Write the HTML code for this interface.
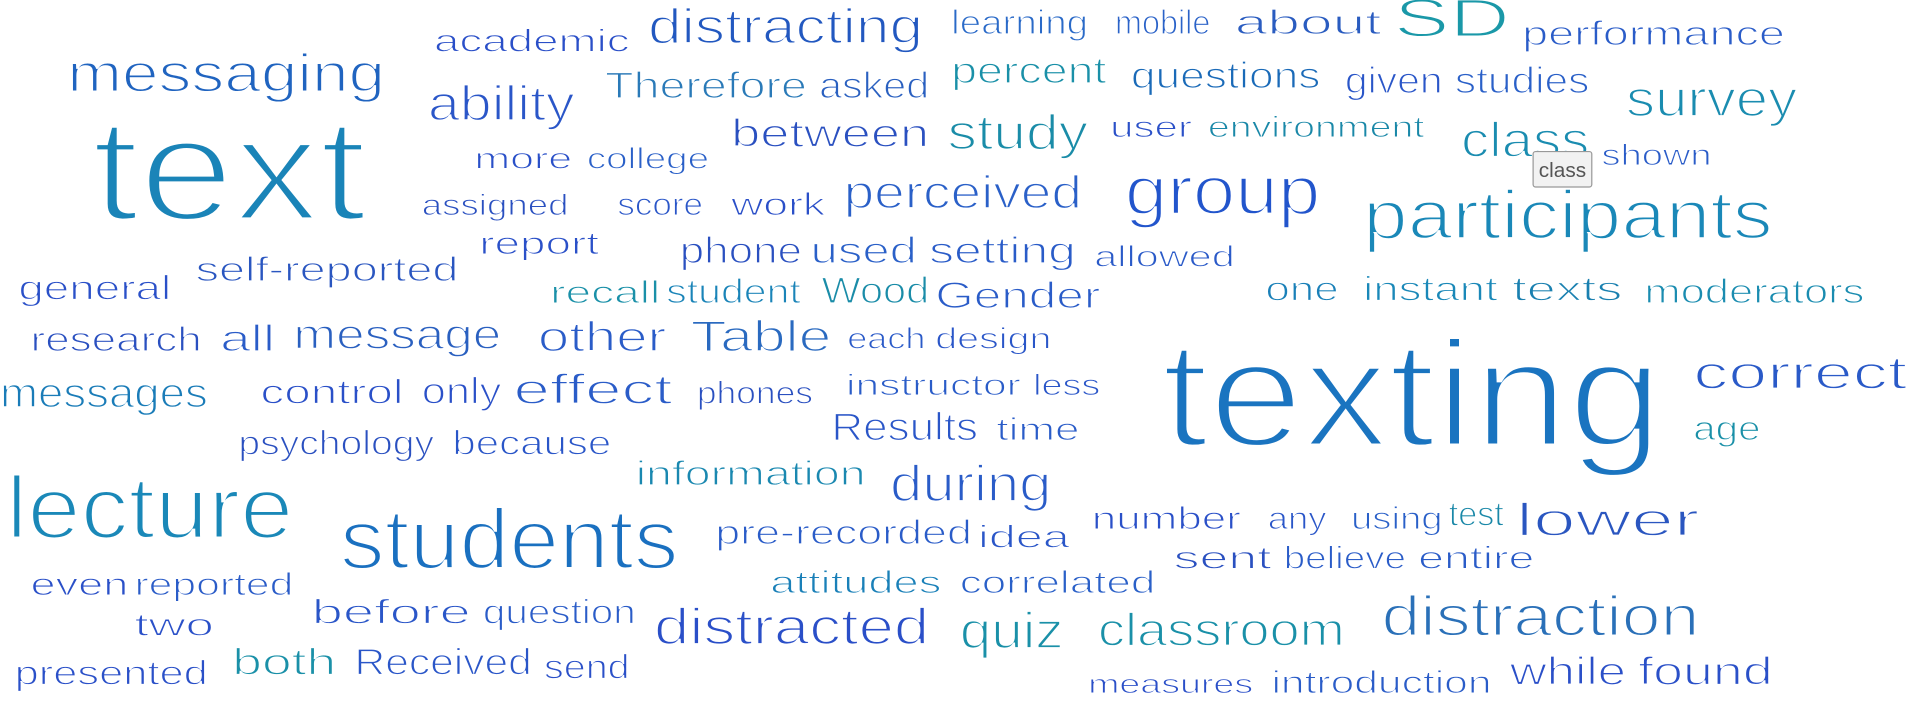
<!DOCTYPE html>
<html><head><meta charset="utf-8"><style>
html,body{margin:0;padding:0;background:#fff;width:1917px;height:704px;overflow:hidden}
svg{display:block}
text{font-family:"Liberation Sans",sans-serif}
</style></head><body>
<svg id="cloud" width="1917" height="704" viewBox="0 0 1568 576" preserveAspectRatio="none" xmlns="http://www.w3.org/2000/svg">
<g id="words"></g>
<g>
<rect x="1254" y="124" width="48" height="29" rx="2" fill="#f2f2f2" stroke="#999" stroke-width="1"/>
<text x="1278" y="145" font-size="17" fill="#555" text-anchor="middle">class</text>
</g>
</svg>
<script>
const words = ["academic","distracting","learning","mobile","about","SD","performance","messaging","text","ability","Therefore","asked","percent","questions","given","studies","survey","between","study","user","environment","class","shown","more","college","assigned","score","work","perceived","group","participants","report","phone","used","setting","allowed","general","self-reported","recall","student","Wood","Gender","one","instant","texts","moderators","research","all","message","other","Table","each","design","messages","control","only","effect","phones","instructor","less","texting","correct","Results","time","psychology","because","age","information","during","lecture","students","number","any","using","test","lower","pre-recorded","idea","even","reported","sent","believe","entire","attitudes","correlated","two","before","question","distracted","quiz","classroom","distraction","presented","both","Received","send","measures","introduction","while","found"];
const weights = [26,40,28,28,28,44,28,44,120,40,30,30,30,30,30,30,42,32,40,24,24,40,24,24,24,24,26,26,38,56,56,26,30,30,30,24,28,28,26,28,30,30,28,28,28,28,28,30,34,34,36,24,24,34,28,30,34,26,24,24,124,38,32,26,28,28,28,28,42,72,70,26,26,26,28,38,28,26,26,26,26,26,26,26,26,26,28,28,42,42,38,46,28,30,30,28,22,26,32,32];
// layout: [left x, baseline y, width] in 1568x576 space
const layout = [[355,42,160],[530,35,225],[778,28,112],[912,28,78],[1010,28,120],[1140,30,95],[1245,37,215],[55,75,260],[75,180,225],[350,98,120],[495,80,165],[670,80,90],[778,68,127],[925,72,155],[1100,76,80],[1190,76,110],[1330,95,140],[598,120,162],[775,122,115],[908,112,67],[988,112,177],[1195,128,105],[1310,135,90],[388,138,80],[480,138,100],[345,176,120],[505,176,70],[598,176,77],[690,170,195],[920,175,160],[1115,195,335],[392,208,98],[556,215,100],[663,215,87],[760,215,120],[895,218,115],[15,245,125],[160,230,215],[450,248,90],[545,248,110],[672,248,88],[765,252,135],[1035,246,60],[1115,246,110],[1237,246,90],[1345,248,180],[25,287,140],[180,287,45],[240,285,170],[440,287,105],[565,287,115],[693,285,64],[765,285,95],[0,333,170],[213,330,117],[345,330,65],[420,330,130],[570,330,95],[692,323,143],[845,323,55],[950,365,410],[1385,318,175],[680,360,120],[815,360,68],[195,372,160],[370,372,130],[1385,360,55],[520,397,188],[728,410,132],[5,440,235],[278,465,277],[893,433,122],[1037,433,48],[1105,433,75],[1185,430,45],[1240,438,150],[585,445,210],[800,448,75],[25,487,80],[110,487,130],[960,465,80],[1050,465,100],[1160,465,95],[630,485,140],[785,485,160],[110,520,65],[255,510,130],[395,510,125],[535,527,225],[785,530,85],[898,528,202],[1130,520,260],[12,560,158],[190,552,85],[290,552,145],[445,555,70],[890,567,135],[1040,567,180],[1235,560,95],[1340,560,110]];
const colors = ["#2a4fc8","#2258c0","#2a6ac8","#2a62c8","#2a5cc0","#1a98a8","#2a5cc8","#2064c0","#1a84b8","#2a56c8","#2a7ab8","#2a60c0","#1a90a8","#1a6ab8","#2a56c8","#2a60c8","#1a8cb0","#2a50c0","#1a8ca8","#2a50c8","#1a88a8","#1a8cb0","#2a5cc8","#2a50c8","#2a60c8","#2a50c0","#2a56c8","#2a4fc8","#2a60c8","#2255cc","#1a88b8","#2a50c8","#2a50c0","#2a60c8","#2a5cc8","#2a5ac8","#2a50c8","#2a56c0","#1a90a8","#1a84b8","#1a8ca8","#2a5cc8","#1a80b8","#1a88b8","#1a80b0","#1a8cb0","#2a50c0","#2a5cc8","#2a60c0","#2a5cc8","#2a6ac0","#2a5ac8","#2a56c8","#1a7cb8","#2a50c8","#2a50c8","#2a5cc8","#2a50c0","#2a5cc8","#2a56c8","#1a74c0","#2a5ac8","#2a56c8","#2a5cc8","#2a50c0","#2a56c8","#1a90a8","#1a88b0","#2a5cc8","#1a88b8","#1a70c0","#2a50c8","#2a56c8","#2a60c8","#1a88a8","#2a56c0","#2a5cc8","#2a56c8","#2a50c8","#2a5cc8","#2a50c0","#2a5cc8","#2a5cc8","#1a80b8","#2a60c8","#2a50c8","#2a56c8","#2a5cc8","#2a4fc8","#1a90a8","#1a90a8","#2a70b8","#2a50c8","#1a90a8","#2a56c8","#2a50c8","#2a4fc8","#2a5cc8","#2a4fc8","#2a50c8"];
const g = document.getElementById('words');
const NS = "http://www.w3.org/2000/svg";
for (let i = 0; i < words.length; i++) {
  const t = document.createElementNS(NS, 'text');
  t.setAttribute('x', layout[i][0]);
  t.setAttribute('y', layout[i][1]);
  t.setAttribute('font-size', weights[i] * 1.0);
  t.setAttribute('textLength', layout[i][2]);
  t.setAttribute('lengthAdjust', 'spacingAndGlyphs');
  t.setAttribute('fill', colors[i]);
  t.setAttribute('stroke', '#ffffff');
  t.setAttribute('stroke-width', (weights[i] * 0.035).toFixed(2));
  t.textContent = words[i];
  
  
  g.appendChild(t);
}
</script>
</body></html>
